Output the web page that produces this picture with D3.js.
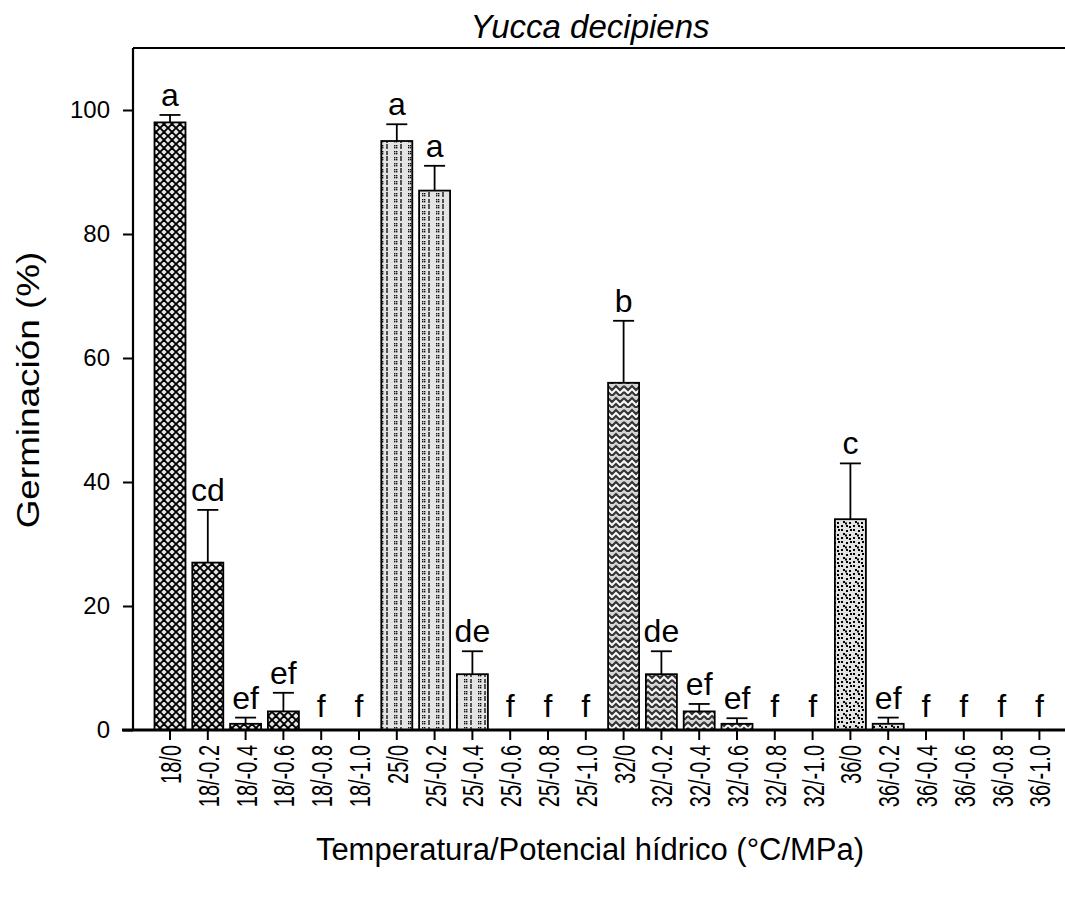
<!DOCTYPE html>
<html><head><meta charset="utf-8">
<script src="https://cdn.jsdelivr.net/npm/d3@7"></script>
<style>body{margin:0;background:#fff}svg{display:block}text{font-family:Arial,"Liberation Sans",sans-serif;fill:#000}</style>
</head><body>
<script>
const categories = ["18/0","18/-0.2","18/-0.4","18/-0.6","18/-0.8","18/-1.0",
 "25/0","25/-0.2","25/-0.4","25/-0.6","25/-0.8","25/-1.0",
 "32/0","32/-0.2","32/-0.4","32/-0.6","32/-0.8","32/-1.0",
 "36/0","36/-0.2","36/-0.4","36/-0.6","36/-0.8","36/-1.0"];
const temps = ["18","18","18","18","18","18","25","25","25","25","25","25","32","32","32","32","32","32","36","36","36","36","36","36"];
const values = [98,27,1,3,0,0, 95,87,9,0,0,0, 56,9,3,1,0,0, 34,1,0,0,0,0];
const errors = [1.2,8.5,1,3,0,0, 2.7,4,3.7,0,0,0, 10,3.7,1.2,0.9,0,0, 9,1,0,0,0,0];
const letters = ["a","cd","ef","ef","f","f","a","a","de","f","f","f","b","de","ef","ef","f","f","c","ef","f","f","f","f"];
const yTicks = [0,20,40,60,80,100];
const title = "Yucca decipiens";
const yLabel = "Germinación (%)";
const xLabel = "Temperatura/Potencial hídrico (°C/MPa)";

const W=1065,H=897;
const svg=d3.select("body").append("svg").attr("width",W).attr("height",H);
const defs=svg.append("defs");

// patterns
const p18=defs.append("pattern").attr("id","p18").attr("patternUnits","userSpaceOnUse").attr("width",8).attr("height",8);
p18.append("rect").attr("width",8).attr("height",8).attr("fill","#e6e6e6");
p18.append("path").attr("d","M-1,-1L9,9M-1,7L1,9M7,-1L9,1M9,-1L-1,9M-1,1L1,-1M7,9L9,7").attr("stroke","#000").attr("stroke-width",1.9);

const p25=defs.append("pattern").attr("id","p25").attr("patternUnits","userSpaceOnUse").attr("width",14).attr("height",12);
p25.append("rect").attr("width",14).attr("height",12).attr("fill","#e4e4e4");
[[2,1],[4,1],[2,3],[4,3],[2,7],[4,7],[2,9],[4,9]].forEach(d=>p25.append("rect").attr("x",d[0]).attr("y",d[1]).attr("width",1.4).attr("height",1.4).attr("fill","#111"));
p25.append("path").attr("d","M9,0V5M9,7V11").attr("stroke","#222").attr("stroke-width",1.5);

const p32=defs.append("pattern").attr("id","p32").attr("patternUnits","userSpaceOnUse").attr("width",16).attr("height",12);
p32.append("rect").attr("width",16).attr("height",12).attr("fill","#d6d6d6");
p32.append("path").attr("d","M0,2L4,6L8,2L12,6L16,2M0,8L4,12L8,8L12,12L16,8").attr("fill","none").attr("stroke","#333").attr("stroke-width",2);
p32.append("path").attr("d","M0,5L4,9L8,5L12,9L16,5").attr("fill","none").attr("stroke","#fafafa").attr("stroke-width",1.4);

const p36=defs.append("pattern").attr("id","p36").attr("patternUnits","userSpaceOnUse").attr("width",12).attr("height",12);
p36.append("rect").attr("width",12).attr("height",12).attr("fill","#e2e2e2");
[[1,1],[6,2],[3,5],[9,6],[1,9],[6,9],[10,1],[5,6.5],[9,10]].forEach(d=>p36.append("rect").attr("x",d[0]).attr("y",d[1]).attr("width",2).attr("height",2).attr("fill","#000"));

const fillFor={"18":"url(#p18)","25":"url(#p25)","32":"url(#p32)","36":"url(#p36)"};

const x=d3.scaleBand().domain(categories).range([151.1,1058.3]).paddingInner(0.18).paddingOuter(0.09);
const y=d3.scaleLinear().domain([0,110]).range([730,48]);

// top border
svg.append("line").attr("x1",133).attr("x2",W).attr("y1",y(110)).attr("y2",y(110)).attr("stroke","#000").attr("stroke-width",2.2);

// bars
const data=categories.map((c,i)=>({c,t:temps[i],v:values[i],e:errors[i],l:letters[i]}));
svg.selectAll("rect.bar").data(data.filter(d=>d.v>0)).join("rect").attr("class","bar")
 .attr("x",d=>x(d.c)).attr("width",x.bandwidth()).attr("y",d=>y(d.v)).attr("height",d=>y(0)-y(d.v))
 .attr("fill",d=>fillFor[d.t]).attr("stroke","#000").attr("stroke-width",1.8);

// error bars
const eb=svg.selectAll("g.eb").data(data.filter(d=>d.e>0)).join("g").attr("class","eb");
eb.append("line").attr("x1",d=>x(d.c)+x.bandwidth()/2).attr("x2",d=>x(d.c)+x.bandwidth()/2)
 .attr("y1",d=>y(d.v)).attr("y2",d=>y(d.v+d.e)).attr("stroke","#000").attr("stroke-width",1.8);
eb.append("line").attr("x1",d=>x(d.c)+x.bandwidth()/2-10.5).attr("x2",d=>x(d.c)+x.bandwidth()/2+10.5)
 .attr("y1",d=>y(d.v+d.e)).attr("y2",d=>y(d.v+d.e)).attr("stroke","#000").attr("stroke-width",1.8);

// letters
svg.selectAll("text.let").data(data).join("text").attr("class","let")
 .attr("x",d=>x(d.c)+x.bandwidth()/2).attr("y",d=>d.v+d.e>0? y(d.v+d.e)-9 : y(0)-13)
 .attr("text-anchor","middle").attr("font-size",32).text(d=>d.l);

// y axis
const ya=svg.append("g").attr("transform","translate(133,0)")
 .call(d3.axisLeft(y).tickValues(yTicks).tickSize(10).tickPadding(13));
ya.select(".domain").attr("d",`M0,${y(110)}V${y(0)}`).attr("stroke-width",2.2);
ya.selectAll(".tick line").attr("stroke-width",2);
ya.selectAll(".tick text").attr("font-size",24).attr("font-family","Arial, 'Liberation Sans', sans-serif");

// x axis
const xa=svg.append("g").attr("transform",`translate(0,${y(0)})`)
 .call(d3.axisBottom(x).tickSize(10).tickPadding(0));
xa.select(".domain").attr("d",`M122,0H${W}`).attr("stroke-width",3);
xa.selectAll(".tick line").attr("stroke-width",2).attr("y1",0);
xa.selectAll(".tick text").attr("font-size",20).attr("font-family","Arial, 'Liberation Sans', sans-serif")
 .attr("text-anchor","end").attr("dy",null).attr("transform","translate(11,15) rotate(-90) scale(1,1.45)").attr("y",0).attr("x",0);

// titles
svg.append("text").attr("x",590).attr("y",38).attr("text-anchor","middle").attr("font-size",33).attr("font-style","italic").text(title);
svg.append("text").attr("transform","translate(39,390) rotate(-90) scale(1.19,1)").attr("text-anchor","middle").attr("font-size",31).text(yLabel);
svg.append("text").attr("x",590).attr("y",860).attr("text-anchor","middle").attr("font-size",31).text(xLabel);
</script>
</body></html>
